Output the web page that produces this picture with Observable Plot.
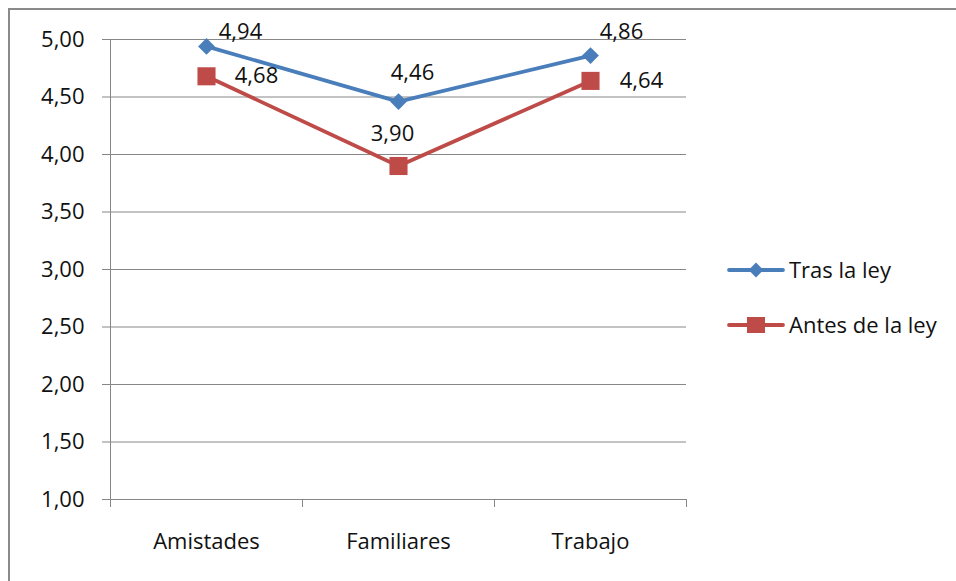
<!DOCTYPE html>
<html>
<head>
<meta charset="utf-8">
<script src="https://cdn.jsdelivr.net/npm/d3@7"></script>
<script src="https://cdn.jsdelivr.net/npm/@observablehq/plot@0.6"></script>
<style>
  html, body { margin: 0; padding: 0; background: #fff; overflow: hidden; }
  #wrap { position: relative; width: 956px; height: 581px; overflow: hidden; }
  #frame { position: absolute; left: 8px; top: 8px; width: 1000px; height: 700px; border: 2px solid #8a8a8a; box-sizing: border-box; pointer-events: none; }
  #chart { position: absolute; left: 0; top: 0; }
  #legend { position: absolute; left: 0; top: 0; }
  text { font-family: "Open Sans", Lato, sans-serif; }
</style>
</head>
<body>
<div id="wrap">
  <div id="frame"></div>
  <div id="chart"></div>
  <svg id="legend" width="956" height="581"></svg>
</div>
<script>
// ---- data ----
const categories = ["Amistades", "Familiares", "Trabajo"];
const seriesNames = ["Tras la ley", "Antes de la ley"];
const trasLaLey = [4.94, 4.46, 4.86];
const antesDeLaLey = [4.68, 3.90, 4.64];
const yTicks = [1.00, 1.50, 2.00, 2.50, 3.00, 3.50, 4.00, 4.50, 5.00];

// ---- style / layout ----
const colors = ["#4a7ebb", "#be4b48"];
const symbols = ["diamond2", "square"];
const fmt = v => v.toFixed(2).replace(".", ",");
const font = "'Open Sans', Lato, sans-serif";
const fs = 22;
// label offsets (px) relative to each point, per series
const labelOffsets = [
  [[34, -14], [14, -29], [31, -24]],
  [[50, 0], [-6, -32], [51, 0]]
];

const rows = [];
[trasLaLey, antesDeLaLey].forEach((vals, s) => {
  vals.forEach((v, i) => rows.push({
    series: seriesNames[s], s, i, xi: i + 0.5, value: v,
    dx: labelOffsets[s][i][0], dy: labelOffsets[s][i][1]
  }));
});

const gridColor = "#878787";

const marks = [
  Plot.ruleY(yTicks, {stroke: gridColor, strokeWidth: 1}),
  Plot.ruleX([0], {stroke: gridColor, strokeWidth: 1}),
  Plot.axisY({ticks: yTicks, tickFormat: fmt, tickSize: 8, tickPadding: 18, stroke: gridColor, fill: "#111", fontSize: fs, fontFamily: font, label: null}),
  Plot.axisX({ticks: [0, 1, 2, 3], tickFormat: () => "", tickSize: 8, stroke: gridColor, label: null}),
  Plot.axisX({ticks: categories.map((c, i) => i + 0.5), tickFormat: d => categories[Math.floor(d)], tickSize: 0, tickPadding: 34, fill: "#111", fontSize: fs, fontFamily: font, label: null}),
];

seriesNames.forEach((name, s) => {
  const d = rows.filter(r => r.s === s);
  marks.push(Plot.line(d, {x: "xi", y: "value", stroke: colors[s], strokeWidth: 3.8}));
});
seriesNames.forEach((name, s) => {
  const d = rows.filter(r => r.s === s);
  marks.push(Plot.dot(d, {x: "xi", y: "value", symbol: () => symbols[s], fill: colors[s], stroke: "none", r: s === 0 ? 7.6 : 10.2}));
});
rows.forEach(r => {
  marks.push(Plot.text([r], {x: "xi", y: "value", text: d => fmt(d.value), dx: r.dx, dy: r.dy, fill: "#111", fontSize: fs, fontFamily: font}));
});

const chart = Plot.plot({
  width: 956,
  height: 581,
  marginLeft: 110,
  marginRight: 270,
  marginTop: 39,
  marginBottom: 82,
  style: {background: "transparent", fontFamily: font},
  x: {type: "linear", domain: [0, 3], axis: null},
  y: {domain: [1, 5], axis: null},
  symbol: {type: "identity"},
  marks
});
document.getElementById("chart").appendChild(chart);

// ---- legend ----
const lg = d3.select("#legend");
seriesNames.forEach((name, s) => {
  const cy = 270 + s * 55;
  const g = lg.append("g");
  g.append("line").attr("x1", 729).attr("x2", 783).attr("y1", cy).attr("y2", cy)
    .attr("stroke", colors[s]).attr("stroke-width", 3.8).attr("stroke-linecap", "round");
  if (s === 0) {
    g.append("path").attr("d", d3.symbol(d3.symbolDiamond2, 140)()).attr("transform", `translate(756,${cy})`).attr("fill", colors[s]);
  } else {
    g.append("rect").attr("x", 747).attr("y", cy - 8).attr("width", 18).attr("height", 16).attr("fill", colors[s]);
  }
  g.append("text").attr("x", 789).attr("y", cy).attr("dy", "0.35em")
    .attr("font-size", fs).attr("font-family", font).attr("fill", "#111").text(name);
});
</script>
</body>
</html>
